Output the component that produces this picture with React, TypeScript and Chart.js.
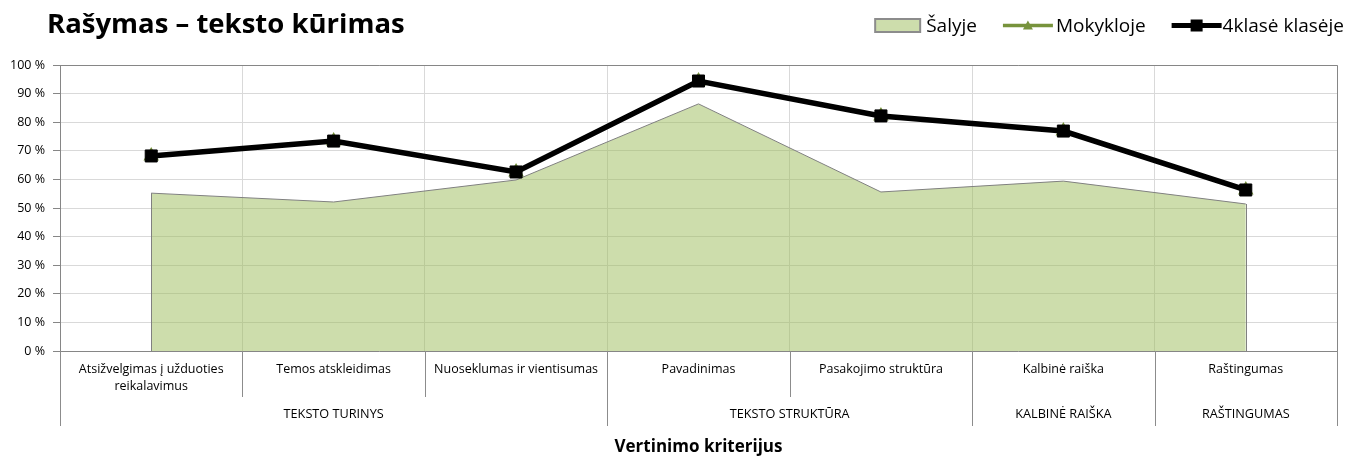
import React, { useEffect, useRef } from 'react';
import { Chart, registerables } from 'chart.js';

Chart.register(...registerables);

const FONT = "'Open Sans', sans-serif";

const chartTitle = 'Rašymas – teksto kūrimas';
const axisTitle = 'Vertinimo kriterijus';
const categories: (string | string[])[] = [
  ['Atsižvelgimas į užduoties', 'reikalavimus'],
  'Temos atskleidimas',
  'Nuoseklumas ir vientisumas',
  'Pavadinimas',
  'Pasakojimo struktūra',
  'Kalbinė raiška',
  'Raštingumas',
];
const groupLabels = ['TEKSTO TURINYS', 'TEKSTO STRUKTŪRA', 'KALBINĖ RAIŠKA', 'RAŠTINGUMAS'];
const groupSpans = [3, 2, 1, 1];
const seriesNames = ['Šalyje', 'Mokykloje', '4klasė klasėje'];
const salyje = [55.2, 52.1, 59.8, 86.4, 55.6, 59.4, 51.4];
const mokykloje = [68.2, 73.4, 62.6, 94.4, 82.2, 76.9, 56.3];
const klaseje = [68.2, 73.4, 62.6, 94.4, 82.2, 76.9, 56.3];
const yMin = 0;
const yMax = 100;
const yStep = 10;

const AREA_FILL = 'rgba(155,187,89,0.5)';
const AREA_BORDER = '#808080';
const GREEN = '#77933c';
const AXIS_GREY = '#868686';
const GRID_GREY = '#d9d9d9';
const DIVIDER = '#8c8c8c';

const decorPlugin = {
  id: 'decor',
  afterDatasetsDraw(chart: any) {
    const { ctx, chartArea: a } = chart;
    const meta = chart.getDatasetMeta(2);
    const pts = meta.data;
    if (!pts || !pts.length) return;
    ctx.save();
    ctx.strokeStyle = AREA_BORDER;
    ctx.lineWidth = 1;
    const first = pts[0];
    const last = pts[pts.length - 1];
    ctx.beginPath();
    ctx.moveTo(Math.round(first.x) + 0.5, first.y);
    ctx.lineTo(Math.round(first.x) + 0.5, a.bottom);
    ctx.moveTo(Math.round(last.x) + 0.5, last.y);
    ctx.lineTo(Math.round(last.x) + 0.5, a.bottom);
    ctx.stroke();
    ctx.restore();
  },
  afterDraw(chart: any) {
    const { ctx, chartArea: a } = chart;
    const x = chart.scales.x;
    const n = categories.length;
    ctx.save();
    // plot border
    ctx.strokeStyle = AXIS_GREY;
    ctx.lineWidth = 1;
    ctx.beginPath();
    ctx.moveTo(Math.round(a.left) + 0.5, Math.round(a.top) + 0.5);
    ctx.lineTo(Math.round(a.right) + 0.5, Math.round(a.top) + 0.5);
    ctx.lineTo(Math.round(a.right) + 0.5, Math.round(a.bottom) + 0.5);
    ctx.stroke();

    // category boundaries
    const boundary = (i: number) => {
      if (i <= 0) return a.left;
      if (i >= n) return a.right;
      return (x.getPixelForValue(i - 1) + x.getPixelForValue(i)) / 2;
    };
    const groupEdges: number[] = [0];
    groupSpans.forEach((s) => groupEdges.push(groupEdges[groupEdges.length - 1] + s));
    ctx.strokeStyle = DIVIDER;
    ctx.beginPath();
    for (let i = 0; i <= n; i++) {
      const bx = Math.round(boundary(i)) + 0.5;
      const long = groupEdges.includes(i);
      ctx.moveTo(bx, a.bottom);
      ctx.lineTo(bx, a.bottom + (long ? 75 : 46));
    }
    ctx.stroke();

    // group labels
    ctx.fillStyle = '#000';
    ctx.font = `12.7px ${FONT}`;
    ctx.textAlign = 'center';
    ctx.textBaseline = 'middle';
    groupLabels.forEach((g, gi) => {
      const cx = (boundary(groupEdges[gi]) + boundary(groupEdges[gi + 1])) / 2;
      ctx.fillText(g, cx, a.bottom + 63);
    });

    // axis title
    ctx.font = `bold 17px ${FONT}`;
    ctx.fillText(axisTitle, (a.left + a.right) / 2, a.bottom + 96);

    // chart title
    ctx.textAlign = 'left';
    ctx.textBaseline = 'alphabetic';
    ctx.font = `bold 27.5px ${FONT}`;
    ctx.fillText(chartTitle, 47, 33);

    // legend (right aligned)
    ctx.font = `19px ${FONT}`;
    const w = seriesNames.map((s) => ctx.measureText(s).width);
    const sym = 50;
    const gap = 26;
    const total = sym + 3 + w[0] + gap + sym + 3 + w[1] + gap + sym + 1 + w[2];
    let lx = 1344 - total;
    const ly = 25.5;
    const base = 32;
    // Šalyje box
    ctx.fillStyle = AREA_FILL;
    ctx.fillRect(lx + 2, ly - 6.5, 45, 13);
    ctx.strokeStyle = '#8c8c8c';
    ctx.lineWidth = 2;
    ctx.strokeRect(lx + 2, ly - 6.5, 45, 13);
    lx += sym + 3;
    ctx.fillStyle = '#000';
    ctx.fillText(seriesNames[0], lx, base);
    lx += w[0] + gap;
    // Mokykloje
    ctx.strokeStyle = GREEN;
    ctx.lineWidth = 3.5;
    ctx.beginPath();
    ctx.moveTo(lx, ly);
    ctx.lineTo(lx + sym, ly);
    ctx.stroke();
    ctx.fillStyle = GREEN;
    ctx.beginPath();
    ctx.moveTo(lx + sym / 2, ly - 5);
    ctx.lineTo(lx + sym / 2 + 5, ly + 4);
    ctx.lineTo(lx + sym / 2 - 5, ly + 4);
    ctx.closePath();
    ctx.fill();
    lx += sym + 3;
    ctx.fillStyle = '#000';
    ctx.fillText(seriesNames[1], lx, base);
    lx += w[1] + gap;
    // 4klasė klasėje
    ctx.strokeStyle = '#000';
    ctx.lineWidth = 5;
    ctx.beginPath();
    ctx.moveTo(lx, ly);
    ctx.lineTo(lx + sym, ly);
    ctx.stroke();
    ctx.fillRect(lx + sym / 2 - 6, ly - 6, 12, 12);
    lx += sym + 1;
    ctx.fillText(seriesNames[2], lx, base);
    ctx.restore();
  },
};

export default function App() {
  const ref = useRef<HTMLCanvasElement>(null);
  useEffect(() => {
    if (!ref.current) return;
    const chart = new Chart(ref.current, {
      type: 'line',
      data: {
        labels: categories as any,
        datasets: [
          {
            label: seriesNames[2],
            data: klaseje,
            borderColor: '#000',
            backgroundColor: '#000',
            borderWidth: 5.5,
            pointStyle: 'rect',
            pointRadius: 8.5,
            pointBorderWidth: 1,
            pointBackgroundColor: '#000',
            pointBorderColor: '#000',
            tension: 0,
            fill: false,
            order: 0,
          },
          {
            label: seriesNames[1],
            data: mokykloje,
            borderColor: GREEN,
            backgroundColor: GREEN,
            borderWidth: 3,
            pointStyle: 'triangle',
            pointRadius: 6,
            pointBackgroundColor: GREEN,
            pointBorderColor: GREEN,
            tension: 0,
            fill: false,
            order: 1,
          },
          {
            label: seriesNames[0],
            data: salyje,
            borderColor: AREA_BORDER,
            backgroundColor: AREA_FILL,
            borderWidth: 1,
            pointRadius: 0,
            tension: 0,
            fill: 'origin',
            order: 2,
          },
        ],
      },
      options: {
        responsive: false,
        animation: false,
        maintainAspectRatio: false,
        layout: { padding: { top: 65, right: 19, left: 0, bottom: 0 } },
        plugins: {
          legend: { display: false },
          title: { display: false },
          tooltip: { enabled: false },
        },
        scales: {
          x: {
            type: 'category',
            offset: true,
            grid: {
              offset: true,
              color: GRID_GREY,
              drawTicks: false,
            },
            border: { color: AXIS_GREY, width: 1 },
            ticks: {
              autoSkip: false,
              maxRotation: 0,
              minRotation: 0,
              padding: 10,
              color: '#000',
              font: { family: FONT, size: 12.5, lineHeight: 1.36 },
            },
            afterFit: (scale: any) => {
              scale.height = 111;
            },
          },
          y: {
            min: yMin,
            max: yMax,
            grid: {
              color: GRID_GREY,
              tickColor: AXIS_GREY,
              tickLength: 7,
            },
            border: { color: AXIS_GREY, width: 1 },
            ticks: {
              stepSize: yStep,
              padding: 8,
              color: '#000',
              font: { family: FONT, size: 12.5 },
              callback: (v: any) => `${v} %`,
            },
            afterFit: (scale: any) => {
              scale.width = 60;
            },
          },
        },
      },
      plugins: [decorPlugin],
    });
    return () => chart.destroy();
  }, []);
  return (
    <div style={{ position: 'absolute', left: 0, top: 0, width: 1356, height: 462, background: '#fff' }}>
      <canvas ref={ref} width={1356} height={462} style={{ display: 'block' }} />
    </div>
  );
}
